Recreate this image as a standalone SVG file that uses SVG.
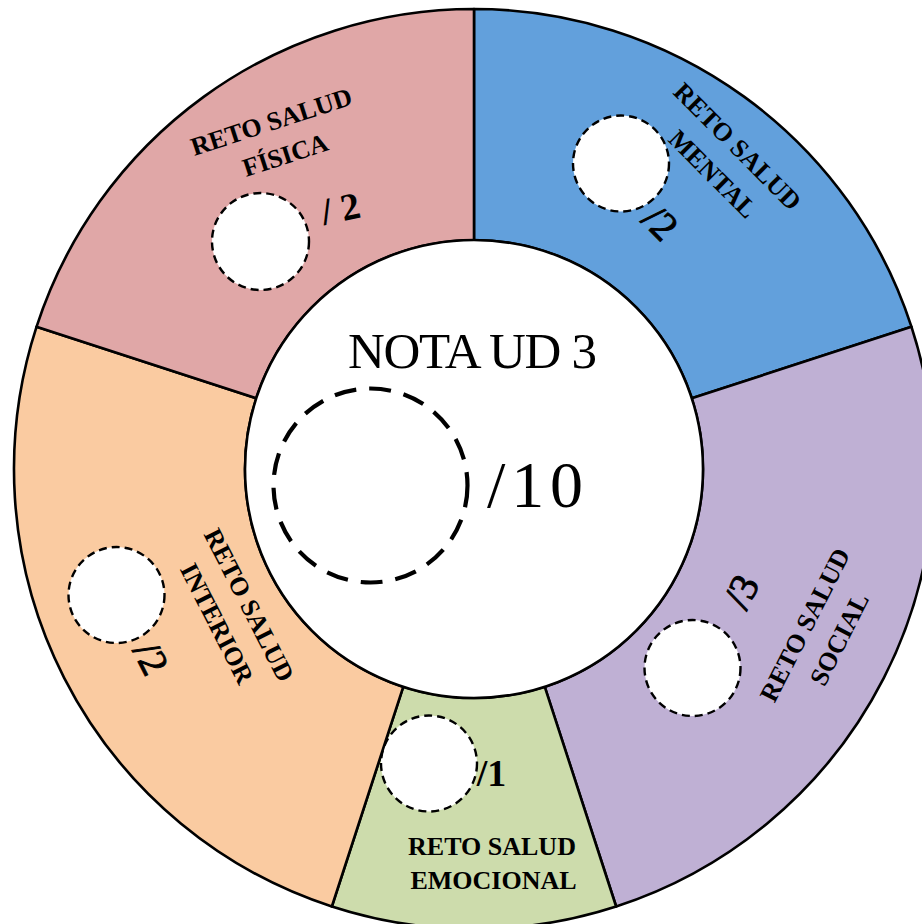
<svg xmlns="http://www.w3.org/2000/svg" width="922" height="924" viewBox="0 0 922 924">
<style>
.seg{stroke:#000;stroke-width:2.6;stroke-linejoin:round}
.lbl{font-family:"Liberation Serif","DejaVu Serif",serif;font-weight:bold;font-size:26px;fill:#000;text-anchor:middle}
.num{font-family:"Liberation Serif","DejaVu Serif",serif;font-size:40px;fill:#000;stroke:#000;stroke-width:0.9;text-anchor:middle}
.bnum{font-family:"Liberation Serif","DejaVu Serif",serif;font-size:38px;font-weight:bold;fill:#000;text-anchor:middle}
.dot{fill:#fff;stroke:#000;stroke-width:2.4;stroke-dasharray:8 5}
</style>
<rect width="922" height="924" fill="#fff"/>
<g id="mental">
<path class="seg" fill="#62A0DC" d="M474 9 A460 460 0 0 1 911.49 326.85 L691.79 398.23 A229 229 0 0 0 474 240 Z"/>
<circle class="dot" cx="621" cy="163.5" r="48"/>
<g transform="translate(731.4 152.6) rotate(45)">
<text class="lbl" x="0" y="0">RETO SALUD</text>
<text class="lbl" x="2" y="37">MENTAL</text>
</g>
<text class="num" transform="translate(650.8 232.2) rotate(45)">/2</text>
</g>
<g id="social">
<path class="seg" fill="#BFB0D4" d="M911.49 326.85 A460 460 0 0 1 616.15 906.49 L544.77 686.79 A229 229 0 0 0 691.79 398.23 Z"/>
<circle class="dot" cx="692.5" cy="668" r="48"/>
<g transform="translate(812.7 628.9) rotate(-63)">
<text class="lbl" x="0" y="0">RETO SALUD</text>
<text class="lbl" x="3" y="37">SOCIAL</text>
</g>
<text class="num" transform="translate(753.3 597.6) rotate(-63)">/3</text>
</g>
<g id="emocional">
<path class="seg" fill="#CDDCAC" d="M616.15 906.49 A460 460 0 0 1 331.85 906.49 L403.23 686.79 A229 229 0 0 0 544.77 686.79 Z"/>
<circle class="dot" cx="429" cy="763.5" r="48"/>
<text class="bnum" x="491.5" y="786">/1</text>
<text class="lbl" x="492" y="855">RETO SALUD</text>
<text class="lbl" x="493.5" y="889">EMOCIONAL</text>
</g>
<g id="interior">
<path class="seg" fill="#FACBA1" d="M331.85 906.49 A460 460 0 0 1 36.51 326.85 L256.21 398.23 A229 229 0 0 0 403.23 686.79 Z"/>
<circle class="dot" cx="116.5" cy="595" r="48"/>
<g transform="translate(241.3 608.9) rotate(63)">
<text class="lbl" x="0" y="0">RETO SALUD</text>
<text class="lbl" x="2" y="37">INTERIOR</text>
</g>
<text class="num" transform="translate(139.1 664.2) rotate(63)">/2</text>
</g>
<g id="fisica">
<path class="seg" fill="#E0A7A7" d="M36.51 326.85 A460 460 0 0 1 474 9 L474 240 A229 229 0 0 0 256.21 398.23 Z"/>
<circle class="dot" cx="260.5" cy="241.5" r="48.5"/>
<g transform="translate(274 130) rotate(-18)">
<text class="lbl" x="0" y="0">RETO SALUD</text>
<text class="lbl" x="3" y="36">FÍSICA</text>
</g>
<text class="bnum" transform="translate(343 221) rotate(-12)">/ 2</text>
</g>
<g id="nota">
<circle cx="474" cy="469" r="229" fill="#fff" stroke="#000" stroke-width="2.6"/>
<text x="472.5" y="368" font-family="Liberation Serif, DejaVu Serif, serif" font-size="51" text-anchor="middle" textLength="249">NOTA UD 3</text>
<circle cx="370.5" cy="485.5" r="97" fill="none" stroke="#000" stroke-width="4.2" stroke-dasharray="22 13"/>
<text x="487" y="507" font-family="Liberation Serif, DejaVu Serif, serif" font-size="66" textLength="96">/10</text>
</g>
<g id="connectors"/>
</svg>
